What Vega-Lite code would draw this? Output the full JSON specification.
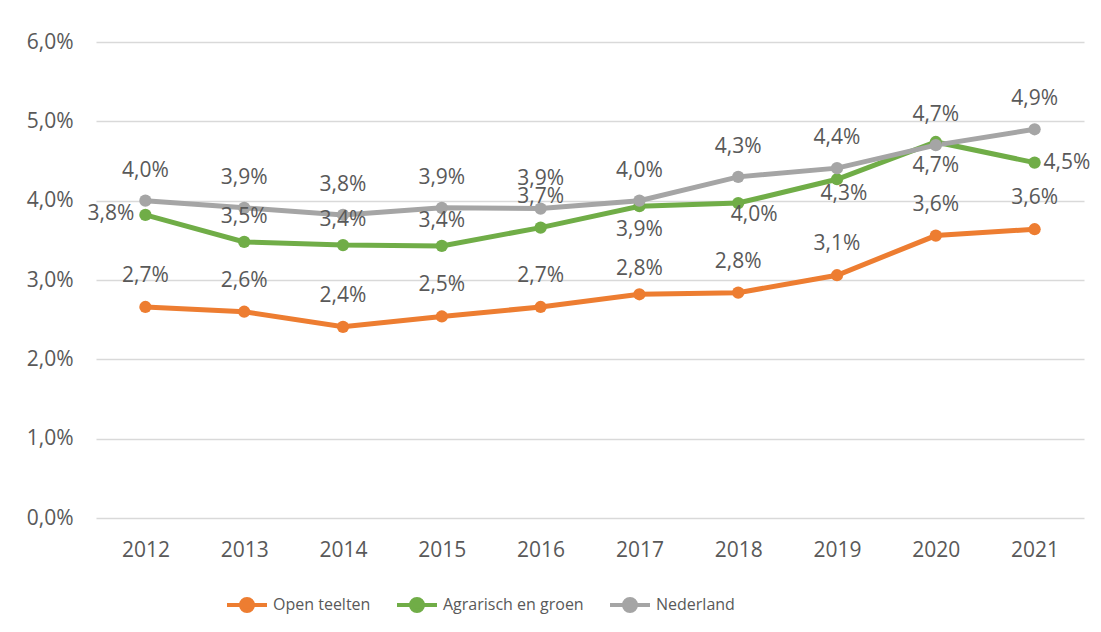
{
  "$schema": "https://vega.github.io/schema/vega-lite/v6.json",
  "autosize": "none",
  "padding": {"left": 96, "top": 42, "right": 17, "bottom": 114},
  "width": 988,
  "height": 476,
  "background": "white",
  "config": {
    "view": {"stroke": null},
    "font": "Open Sans",
    "locale": {"number": {"decimal": ",", "thousands": ".", "grouping": [3], "currency": ["€", ""]}},
    "text": {"font": "Open Sans", "fontSize": 21, "color": "#595959", "baseline": "middle"}
  },
  "data": {
    "values": [
      {"year": "2012", "series": "Open teelten", "value": 0.0266},
      {"year": "2013", "series": "Open teelten", "value": 0.0260},
      {"year": "2014", "series": "Open teelten", "value": 0.0241},
      {"year": "2015", "series": "Open teelten", "value": 0.0254},
      {"year": "2016", "series": "Open teelten", "value": 0.0266},
      {"year": "2017", "series": "Open teelten", "value": 0.0282},
      {"year": "2018", "series": "Open teelten", "value": 0.0284},
      {"year": "2019", "series": "Open teelten", "value": 0.0306},
      {"year": "2020", "series": "Open teelten", "value": 0.0356},
      {"year": "2021", "series": "Open teelten", "value": 0.0364},
      {"year": "2012", "series": "Agrarisch en groen", "value": 0.0382},
      {"year": "2013", "series": "Agrarisch en groen", "value": 0.0348},
      {"year": "2014", "series": "Agrarisch en groen", "value": 0.0344},
      {"year": "2015", "series": "Agrarisch en groen", "value": 0.0343},
      {"year": "2016", "series": "Agrarisch en groen", "value": 0.0366},
      {"year": "2017", "series": "Agrarisch en groen", "value": 0.0393},
      {"year": "2018", "series": "Agrarisch en groen", "value": 0.0397},
      {"year": "2019", "series": "Agrarisch en groen", "value": 0.0427},
      {"year": "2020", "series": "Agrarisch en groen", "value": 0.0474},
      {"year": "2021", "series": "Agrarisch en groen", "value": 0.0448},
      {"year": "2012", "series": "Nederland", "value": 0.0400},
      {"year": "2013", "series": "Nederland", "value": 0.0391},
      {"year": "2014", "series": "Nederland", "value": 0.0382},
      {"year": "2015", "series": "Nederland", "value": 0.0391},
      {"year": "2016", "series": "Nederland", "value": 0.0390},
      {"year": "2017", "series": "Nederland", "value": 0.0400},
      {"year": "2018", "series": "Nederland", "value": 0.0430},
      {"year": "2019", "series": "Nederland", "value": 0.0441},
      {"year": "2020", "series": "Nederland", "value": 0.0470},
      {"year": "2021", "series": "Nederland", "value": 0.0490}
    ]
  },
  "encoding": {
    "x": {
      "field": "year", "type": "ordinal",
      "scale": {"type": "point", "padding": 0.5},
      "axis": {"title": null, "domain": false, "ticks": false, "labelAngle": 0, "labelPadding": 21, "labelFont": "Open Sans", "labelFontSize": 21, "labelColor": "#595959", "grid": false}
    },
    "y": {
      "field": "value", "type": "quantitative",
      "scale": {"domain": [0, 0.06], "nice": false, "zero": true},
      "axis": {"title": null, "domain": false, "ticks": false, "values": [0, 0.01, 0.02, 0.03, 0.04, 0.05, 0.06], "format": ".1%", "labelPadding": 23, "labelFont": "Open Sans", "labelFontSize": 21, "labelColor": "#595959", "gridColor": "#d9d9d9", "gridWidth": 1.3}
    }
  },
  "layer": [
    {
      "mark": {"type": "line", "strokeWidth": 5, "point": {"filled": true, "size": 150, "opacity": 1}},
      "encoding": {
        "color": {
          "field": "series", "type": "nominal",
          "scale": {"domain": ["Open teelten", "Agrarisch en groen", "Nederland"], "range": ["#ED7D31", "#70AD47", "#A5A5A5"]},
          "legend": {
            "title": null, "orient": "none", "direction": "horizontal", "legendX": 129, "legendY": 541,
            "symbolType": "M-1,0H1M-0.3,0a0.3,0.3 0 1,0 0.6,0a0.3,0.3 0 1,0 -0.6,0",
            "symbolSize": 1600, "symbolStrokeWidth": 4, "symbolOpacity": 1,
            "labelFont": "Open Sans", "labelFontSize": 16, "labelColor": "#595959", "labelOffset": 4, "labelLimit": 400, "columnPadding": 18,
            "encode": {"symbols": {"update": {"fill": {"scale": "color", "field": "value"}, "stroke": {"scale": "color", "field": "value"}}}}
          }
        }
      }
    },
    {
      "transform": [{"filter": "datum.series === 'Nederland'"}],
      "mark": {"type": "text", "dy": -30},
      "encoding": {"text": {"field": "value", "type": "quantitative", "format": ".1%"}}
    },
    {
      "transform": [{"filter": "datum.series === 'Open teelten' && datum.year !== '2017'"}],
      "mark": {"type": "text", "dy": -31},
      "encoding": {"text": {"field": "value", "type": "quantitative", "format": ".1%"}}
    },
    {
      "transform": [{"filter": "datum.series === 'Open teelten' && datum.year === '2017'"}],
      "mark": {"type": "text", "dy": -25},
      "encoding": {"text": {"field": "value", "type": "quantitative", "format": ".1%"}}
    },
    {
      "transform": [{"filter": "datum.series === 'Agrarisch en groen' && datum.year === '2012'"}],
      "mark": {"type": "text", "align": "right", "dx": -11, "dy": -1},
      "encoding": {"text": {"field": "value", "type": "quantitative", "format": ".1%"}}
    },
    {
      "transform": [{"filter": "datum.series === 'Agrarisch en groen' && indexof(['2013','2014','2015'], datum.year) >= 0"}],
      "mark": {"type": "text", "dy": -25},
      "encoding": {"text": {"field": "value", "type": "quantitative", "format": ".1%"}}
    },
    {
      "transform": [{"filter": "datum.series === 'Agrarisch en groen' && datum.year === '2016'"}],
      "mark": {"type": "text", "dy": -31},
      "encoding": {"text": {"field": "value", "type": "quantitative", "format": ".1%"}}
    },
    {
      "transform": [{"filter": "datum.series === 'Agrarisch en groen' && indexof(['2017','2020'], datum.year) >= 0"}],
      "mark": {"type": "text", "dy": 24},
      "encoding": {"text": {"field": "value", "type": "quantitative", "format": ".1%"}}
    },
    {
      "transform": [{"filter": "datum.series === 'Agrarisch en groen' && datum.year === '2018'"}],
      "mark": {"type": "text", "dy": 12, "dx": 16},
      "encoding": {"text": {"field": "value", "type": "quantitative", "format": ".1%"}}
    },
    {
      "transform": [{"filter": "datum.series === 'Agrarisch en groen' && datum.year === '2019'"}],
      "mark": {"type": "text", "dy": 15, "dx": 7},
      "encoding": {"text": {"field": "value", "type": "quantitative", "format": ".1%"}}
    },
    {
      "transform": [{"filter": "datum.series === 'Agrarisch en groen' && datum.year === '2021'"}],
      "mark": {"type": "text", "align": "left", "dx": 9, "dy": 0},
      "encoding": {"text": {"field": "value", "type": "quantitative", "format": ".1%"}}
    }
  ]
}
